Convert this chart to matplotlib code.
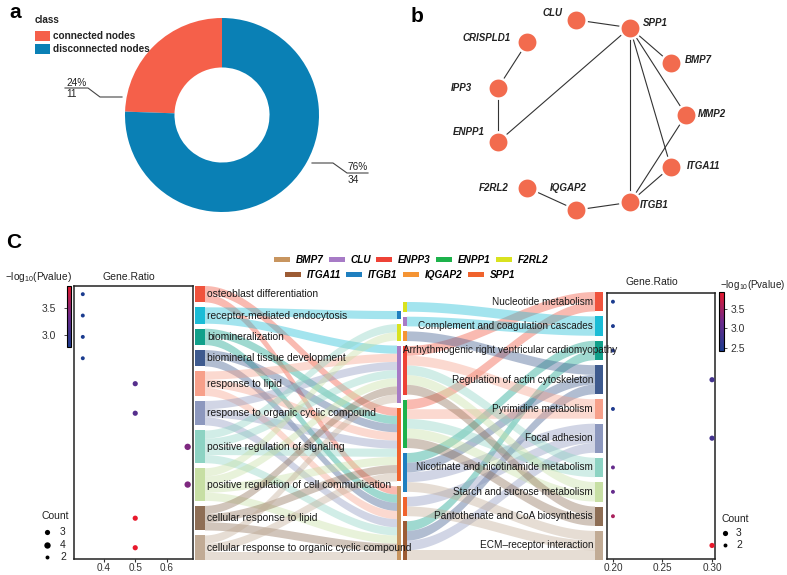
import numpy as np
import matplotlib
matplotlib.use('Agg')
import matplotlib.pyplot as plt
from matplotlib.patches import Rectangle, Polygon, Patch
from matplotlib.colors import LinearSegmentedColormap

plt.rcParams['font.family'] = ['Liberation Sans', 'DejaVu Sans']
plt.rcParams['mathtext.fontset'] = 'custom'
plt.rcParams['mathtext.rm'] = 'Liberation Sans'

# ---------------- data ----------------
donut_classes = ['connected nodes', 'disconnected nodes']
donut_counts = [11, 34]
donut_colors = ['#F5604A', '#0A80B5']

net_nodes = ['MMP2', 'ITGA11', 'ITGB1', 'IQGAP2', 'F2RL2', 'ENPP1', 'IPP3',
             'CRISPLD1', 'CLU', 'SPP1', 'BMP7']
net_edges = [('CLU', 'SPP1'), ('CRISPLD1', 'IPP3'), ('IPP3', 'ENPP1'),
             ('ENPP1', 'SPP1'), ('SPP1', 'BMP7'), ('SPP1', 'MMP2'),
             ('SPP1', 'ITGA11'), ('SPP1', 'ITGB1'), ('MMP2', 'ITGB1'),
             ('ITGA11', 'ITGB1'), ('F2RL2', 'IQGAP2'), ('IQGAP2', 'ITGB1')]

go_terms = ['osteoblast differentiation', 'receptor-mediated endocytosis',
            'biomineralization', 'biomineral tissue development',
            'response to lipid', 'response to organic cyclic compound',
            'positive regulation of signaling',
            'positive regulation of cell communication',
            'cellular response to lipid',
            'cellular response to organic cyclic compound']
go_genes = [['BMP7', 'SPP1'], ['ITGB1', 'CLU'], ['BMP7', 'SPP1'], ['BMP7', 'SPP1'],
            ['BMP7', 'CLU', 'SPP1'], ['BMP7', 'CLU', 'SPP1'],
            ['BMP7', 'CLU', 'F2RL2', 'SPP1'], ['BMP7', 'CLU', 'F2RL2', 'SPP1'],
            ['BMP7', 'CLU', 'SPP1'], ['BMP7', 'CLU', 'SPP1']]
go_ratio = [0.333, 0.333, 0.333, 0.333, 0.5, 0.5, 0.667, 0.667, 0.5, 0.5]
go_count = [2, 2, 2, 2, 3, 3, 4, 4, 3, 3]
go_logp = [2.78, 2.78, 2.78, 2.78, 3.18, 3.18, 3.42, 3.42, 3.91, 3.91]

kegg_terms = ['Nucleotide metabolism', 'Complement and coagulation cascades',
              'Arrhythmogenic right ventricular cardiomyopathy',
              'Regulation of actin cytoskeleton', 'Pyrimidine metabolism',
              'Focal adhesion', 'Nicotinate and nicotinamide metabolism',
              'Starch and sucrose metabolism', 'Pantothenate and CoA biosynthesis',
              'ECM\u2013receptor interaction']
kegg_genes = [['ENPP3', 'ENPP1'], ['F2RL2', 'CLU'], ['ITGB1', 'ITGA11'],
              ['IQGAP2', 'ITGB1', 'ITGA11'], ['ENPP3', 'ENPP1'],
              ['ITGB1', 'ITGA11', 'SPP1'], ['ENPP3', 'ENPP1'], ['ENPP3', 'ENPP1'],
              ['ENPP3', 'ENPP1'], ['ITGB1', 'ITGA11', 'SPP1']]
kegg_ratio = [0.2, 0.2, 0.2, 0.3, 0.2, 0.3, 0.2, 0.2, 0.2, 0.3]
kegg_count = [2, 2, 2, 3, 2, 3, 2, 2, 2, 3]
kegg_logp = [2.42, 2.45, 2.5, 2.8, 2.47, 2.8, 3.1, 3.1, 3.55, 3.94]

genes_left = ['ITGB1', 'F2RL2', 'CLU', 'SPP1', 'BMP7']
genes_right = ['F2RL2', 'CLU', 'IQGAP2', 'ENPP3', 'ENPP1', 'ITGB1', 'SPP1', 'ITGA11']
legend_row1 = ['BMP7', 'CLU', 'ENPP3', 'ENPP1', 'F2RL2']
legend_row2 = ['ITGA11', 'ITGB1', 'IQGAP2', 'SPP1']
gene_colors = {'BMP7': '#C8955F', 'CLU': '#A77BC6', 'ENPP3': '#EE4236',
               'ENPP1': '#1DB24B', 'F2RL2': '#D9E21F', 'ITGA11': '#9C5B34',
               'ITGB1': '#1F7FBF', 'IQGAP2': '#F59433', 'SPP1': '#F0632D'}
term_palette = ['#F0533D', '#1BBCD6', '#11A08A', '#3E5A8E', '#F7A08A',
                '#8D98BE', '#8DD3C3', '#C7DFA4', '#8E6E55', '#C1AB95']
count_legend_left = [3, 4, 2]
count_legend_right = [3, 2]

# ---------------- figure ----------------
W, H = 787, 575
fig = plt.figure(figsize=(W / 100, H / 100), dpi=100)


def px_axes(x0, y0, x1, y1, **kw):
    return fig.add_axes([x0 / W, 1 - y1 / H, (x1 - x0) / W, (y1 - y0) / H], **kw)


def size_of(c):
    return {2: 8, 3: 14, 4: 21}[c]


# ---- panel a: donut ----
cx, cy, R = 222, 115, 97
axa = px_axes(0, 0, 400, 230)
axa.pie(donut_counts, colors=donut_colors, startangle=90, counterclock=True,
        radius=1, wedgeprops=dict(width=0.51, edgecolor='none'))
axa.set_xlim((0 - cx) / R, (400 - cx) / R)
axa.set_ylim((cy - 230) / R, (cy - 0) / R)
axa.set_aspect('auto')
axa.axis('off')

# ---- panel C: dot plots ----
cmap = LinearSegmentedColormap.from_list('pv', ['#1B3C8F', '#6E2A8C', '#E8192C'])


def stack_unit(counts, top, bottom, gap):
    return (bottom - top - gap * (len(counts) - 1)) / sum(counts)


def stack_spans(counts, unit, bottom, gap):
    total = unit * sum(counts) + gap * (len(counts) - 1)
    y = bottom - total
    spans = []
    for c in counts:
        spans.append((y, y + c * unit))
        y += c * unit + gap
    return spans


GAP = 5
u1 = stack_unit(go_count, 286, 560, GAP)
go_spans = stack_spans(go_count, u1, 560, GAP)
gl_count = [sum(g in gs for gs in go_genes) for g in genes_left]
gl_spans = stack_spans(gl_count, u1, 560, GAP)

u2 = stack_unit(kegg_count, 292, 560, GAP)
kegg_spans = stack_spans(kegg_count, u2, 560, GAP)
gr_count = [sum(g in gs for gs in kegg_genes) for g in genes_right]
gr_spans = stack_spans(gr_count, u2, 560, GAP)

go_centers = [(a + b) / 2 for a, b in go_spans]
kegg_centers = [(a + b) / 2 for a, b in kegg_spans]

axL = px_axes(74, 286, 193, 559)
scL = axL.scatter(go_ratio, go_centers, s=[size_of(c) for c in go_count], c=go_logp,
                  cmap=cmap, vmin=min(go_logp), vmax=max(go_logp), zorder=3,
                  linewidths=0)
axL.set_xlim(0.305, 0.684)
axL.set_ylim(559, 286)
axL.set_yticks([])
axL.set_xticks([0.4, 0.5, 0.6])
axL.set_xticklabels(['0.4', '0.5', '0.6'])

axR = px_axes(607, 293, 715, 559)
scR = axR.scatter(kegg_ratio, kegg_centers, s=[size_of(c) for c in kegg_count],
                  c=kegg_logp, cmap=cmap, vmin=min(kegg_logp), vmax=max(kegg_logp),
                  zorder=3, linewidths=0)
axR.set_xlim(0.194, 0.303)
axR.set_ylim(559, 293)
axR.set_yticks([])
axR.set_xticks([0.20, 0.25, 0.30])
axR.set_xticklabels(['0.20', '0.25', '0.30'])

for ax in (axL, axR):
    for sp in ax.spines.values():
        sp.set_linewidth(1.1)
        sp.set_color('#222222')
    ax.tick_params(axis='x', labelsize=7.2, length=2, width=0.8, pad=0.8,
                   colors='#333333')
    ax.patch.set_alpha(0)

caxL = px_axes(67, 286, 71.5, 347)
cbL = fig.colorbar(scL, cax=caxL, ticks=[3.0, 3.5])
caxL.yaxis.set_ticks_position('left')
caxL.yaxis.set_label_position('left')
caxL.tick_params(labelsize=7.5, length=2, width=0.6, pad=6, colors='#333333')
cbL.outline.set_linewidth(0.8)

caxR = px_axes(719, 292, 723.5, 351)
cbR = fig.colorbar(scR, cax=caxR, ticks=[2.5, 3.0, 3.5])
caxR.tick_params(labelsize=7.5, length=2, width=0.6, pad=3, colors='#333333')
cbR.outline.set_linewidth(0.8)

# ---- overlay axes in pixel coordinates ----
ov = fig.add_axes([0, 0, 1, 1])
ov.set_xlim(0, W)
ov.set_ylim(H, 0)
ov.axis('off')
ov.patch.set_alpha(0)

# panel letters
ov.text(9, 12, 'a', fontsize=15, fontweight='bold', va='center', ha='left')
ov.text(411, 16, 'b', fontsize=15, fontweight='bold', va='center', ha='left')
ov.text(6, 243, 'C', fontsize=15, fontweight='bold', va='center', ha='left')

# panel a legend and labels
ov.text(35, 20, 'class', fontsize=7.2, fontweight='bold', va='center', color='#222222')
for k, (lab, col) in enumerate(zip(donut_classes, donut_colors)):
    yy = 36 + 13 * k
    ov.add_patch(Rectangle((35, yy - 5), 15, 10, color=col, lw=0))
    ov.text(53, yy, lab, fontsize=7.2, fontweight='bold', va='center', color='#222222')

tot = sum(donut_counts)
pct = [f'{round(c / tot * 100)}%' for c in donut_counts]
ov.plot([65, 88, 100, 122], [88, 88, 97, 97], color='#444444', lw=0.8)
ov.text(66, 82.5, pct[0], fontsize=7.3, va='center', ha='left', color='#222222')
ov.text(66, 94, str(donut_counts[0]), fontsize=7.3, va='center', ha='left', color='#222222')
ov.plot([312, 333, 347, 368], [163, 163, 173, 173], color='#444444', lw=0.8)
ov.text(348, 167.5, pct[1], fontsize=7.3, va='center', ha='left', color='#222222')
ov.text(348, 180, str(donut_counts[1]), fontsize=7.3, va='center', ha='left', color='#222222')

# ---- panel b: network (circle layout) ----
ncx, ncy, nr = 590, 115, 96
ang = np.arange(len(net_nodes)) * 2 * np.pi / len(net_nodes)
pos = {n: (ncx + nr * np.cos(a), ncy + nr * np.sin(a)) for n, a in zip(net_nodes, ang)}
for a, b in net_edges:
    ov.plot([pos[a][0], pos[b][0]], [pos[a][1], pos[b][1]], color='#333333',
            lw=0.8, zorder=2)
ov.scatter([pos[n][0] for n in net_nodes], [pos[n][1] for n in net_nodes],
           s=215, color='#F26B4E', edgecolor='white', linewidth=1.8, zorder=3)
net_label_off = {'CLU': (-14, -7, 'right'), 'SPP1': (13, -5, 'left'),
                 'CRISPLD1': (-16, -4, 'right'), 'BMP7': (14, -3, 'left'),
                 'IPP3': (-26, 0, 'right'), 'MMP2': (12, -1, 'left'),
                 'ENPP1': (-13, -10, 'right'), 'ITGA11': (16, -1, 'left'),
                 'F2RL2': (-19, 0, 'right'), 'IQGAP2': (-8, -22, 'center'),
                 'ITGB1': (10, 3, 'left')}
for n in net_nodes:
    dx, dy, ha = net_label_off[n]
    ov.text(pos[n][0] + dx, pos[n][1] + dy, n, fontsize=7, fontweight='bold',
            fontstyle='italic', ha=ha, va='center', color='#222222', zorder=4)

# ---- sankey ----
X_GO0, X_GO1 = 195, 205
X_GL0, X_GL1 = 397, 401
X_GR0, X_GR1 = 403, 407
X_KG0, X_KG1 = 595, 603
ALPHA = 0.4


def band(x0, x1, y0, y1, w, color):
    t = np.linspace(0, 1, 60)
    s = t * t * (3 - 2 * t)
    xs = x0 + (x1 - x0) * t
    top = y0 + (y1 - y0) * s
    poly = np.column_stack([np.concatenate([xs, xs[::-1]]),
                            np.concatenate([top, (top + w)[::-1]])])
    ov.add_patch(Polygon(poly, closed=True, facecolor=color, edgecolor='none',
                         alpha=ALPHA, zorder=1))


def link_positions(links, src_spans, dst_spans, unit):
    s_pos, d_pos = {}, {}
    sc = [sp[0] for sp in src_spans]
    for s, d in sorted(links):
        s_pos[(s, d)] = sc[s]
        sc[s] += unit
    dc = [sp[0] for sp in dst_spans]
    for s, d in sorted(links, key=lambda l: (l[1], l[0])):
        d_pos[(s, d)] = dc[d]
        dc[d] += unit
    return s_pos, d_pos


# left: GO term -> gene
left_links = [(i, genes_left.index(g)) for i, gs in enumerate(go_genes) for g in gs]
sp_, dp_ = link_positions(left_links, go_spans, gl_spans, u1)
for (s, d) in left_links:
    band(X_GO1, X_GL0, sp_[(s, d)], dp_[(s, d)], u1, term_palette[s])

# right: gene -> KEGG term
right_links = [(genes_right.index(g), j) for j, gs in enumerate(kegg_genes) for g in gs]
sp2, dp2 = link_positions(right_links, gr_spans, kegg_spans, u2)
for (s, d) in right_links:
    band(X_GR1, X_KG0, sp2[(s, d)], dp2[(s, d)], u2, term_palette[d])

for i, (a, b) in enumerate(go_spans):
    ov.add_patch(Rectangle((X_GO0, a), X_GO1 - X_GO0, b - a, color=term_palette[i], lw=0, zorder=2))
    ov.text(X_GO1 + 2, (a + b) / 2, go_terms[i], fontsize=7.4, ha='left', va='center',
            color='#1a1a1a', zorder=5)
for i, (a, b) in enumerate(kegg_spans):
    ov.add_patch(Rectangle((X_KG0, a), X_KG1 - X_KG0, b - a, color=term_palette[i], lw=0, zorder=2))
kegg_label_dx = [0, 0, 24, 0, 0, 0, 0, 0, 0, 0]
for i, (a, b) in enumerate(kegg_spans):
    ov.text(X_KG0 - 2 + kegg_label_dx[i], (a + b) / 2, kegg_terms[i], fontsize=7.2,
            ha='right', va='center', color='#1a1a1a', zorder=5)
for g, (a, b) in zip(genes_left, gl_spans):
    ov.add_patch(Rectangle((X_GL0, a), X_GL1 - X_GL0, b - a, color=gene_colors[g], lw=0, zorder=2))
for g, (a, b) in zip(genes_right, gr_spans):
    ov.add_patch(Rectangle((X_GR0, a), X_GR1 - X_GR0, b - a, color=gene_colors[g], lw=0, zorder=2))

# gene legend (two rows)
leg_prop = dict(size=7.2, weight='bold', style='italic')
for row, (cxl, cyl) in ((legend_row1, (411, 260)), (legend_row2, (400, 275))):
    handles = [Patch(facecolor=gene_colors[g], edgecolor='none', label=g) for g in row]
    fig.legend(handles=handles, loc='center', bbox_to_anchor=(cxl / W, 1 - cyl / H),
               ncol=len(row), frameon=False, prop=leg_prop, handlelength=1.6,
               handleheight=0.5, handletextpad=0.6, columnspacing=0.5, borderpad=0,
               borderaxespad=0)

# titles
ptitle = r'$\mathregular{-log_{10}(Pvalue)}$'
ov.text(5, 277, ptitle, fontsize=7.3, ha='left', va='center', color='#222222')
ov.text(720, 285, ptitle, fontsize=7.1, ha='left', va='center', color='#222222')
ov.text(129, 277, 'Gene.Ratio', fontsize=7.5, ha='center', va='center', color='#222222')
ov.text(652, 282, 'Gene.Ratio', fontsize=7.5, ha='center', va='center', color='#222222')

# count legends
ov.text(42, 516, 'Count', fontsize=7.5, ha='left', va='center', color='#222222')
for k, c in enumerate(count_legend_left):
    yy = 532 + 12.5 * k
    ov.scatter([47], [yy], s=size_of(c), color='black', linewidths=0)
    ov.text(60, yy, str(c), fontsize=7.5, ha='left', va='center', color='#222222')
ov.text(722, 519, 'Count', fontsize=7.5, ha='left', va='center', color='#222222')
for k, c in enumerate(count_legend_right):
    yy = 533 + 12 * k
    ov.scatter([725], [yy], s=size_of(c), color='black', linewidths=0)
    ov.text(736, yy, str(c), fontsize=7.5, ha='left', va='center', color='#222222')

fig.savefig('out.png', dpi=100)
